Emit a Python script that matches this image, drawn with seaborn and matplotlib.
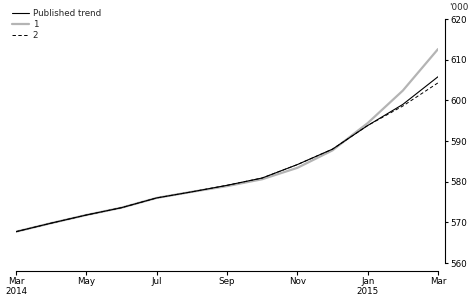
import matplotlib
matplotlib.use("Agg")
import matplotlib.pyplot as plt
import seaborn as sns
import pandas as pd
import numpy as np

months = ["Mar 2014", "Apr", "May", "Jun", "Jul", "Aug", "Sep", "Oct", "Nov", "Dec", "Jan 2015", "Feb", "Mar 2015"]
published = [567.7, 569.8, 571.8, 573.6, 576.0, 577.5, 579.1, 580.9, 584.2, 588.0, 593.8, 599.0, 605.8]
series1 = [567.7, 569.8, 571.8, 573.6, 576.0, 577.5, 578.9, 580.6, 583.4, 587.7, 594.4, 602.4, 612.6]
series2 = [567.7, 569.8, 571.8, 573.6, 576.0, 577.5, 579.1, 580.9, 584.2, 588.0, 593.8, 598.6, 604.3]
tick_labels = ["Mar\n2014", "May", "Jul", "Sep", "Nov", "Jan\n2015", "Mar"]
yticks = [560, 570, 580, 590, 600, 610, 620]

sns.set_theme(style="white")
plt.rcParams['font.family'] = ['DejaVu Sans']
fs = 6.3

idx = np.arange(len(months))
df = pd.DataFrame({"x": idx, "Published trend": published, "1": series1, "2": series2})

fig = plt.figure(figsize=(4.72, 3.02), dpi=100)
ax = fig.add_axes([16/472, 1 - 263/302, (438-16)/472, (263-19)/302])

sns.lineplot(data=df, x="x", y="1", ax=ax, color="#b4b4b4", linewidth=1.6, label="1", zorder=2)
sns.lineplot(data=df, x="x", y="Published trend", ax=ax, color="black", linewidth=0.8, label="Published trend", zorder=3)
sns.lineplot(data=df, x="x", y="2", ax=ax, color="black", linewidth=0.7, linestyle=(0, (3.5, 2.5)), label="2", zorder=4)

ax.set_xlim(0, 12)
ax.set_ylim(560, 620)
ax.set_xlabel("")
ax.set_ylabel("")

for s in ["top", "left"]:
    ax.spines[s].set_visible(False)
ax.spines["bottom"].set_position(("outward", 5.8))
ax.spines["right"].set_position(("outward", 5.0))
ax.spines["bottom"].set_bounds(0, 12)
ax.spines["right"].set_bounds(560, 620)
for s in ["bottom", "right"]:
    ax.spines[s].set_color("black")
    ax.spines[s].set_linewidth(0.8)

ax.yaxis.tick_right()
ax.set_yticks(yticks)
ax.set_yticklabels([str(v) for v in yticks], fontsize=fs)
ax.set_xticks(np.arange(0, 13, 2))
ax.set_xticklabels(tick_labels, fontsize=fs, linespacing=1.1)
ax.tick_params(axis="y", which="both", right=True, left=False, direction="out", length=2.5, width=0.8, pad=1.5, colors="black")
ax.tick_params(axis="x", which="both", bottom=True, direction="out", length=3.0, width=0.8, pad=1.5, colors="black")
ax.grid(False)

fig.text(449/472, 1 - 8/302, "'000", fontsize=fs, ha="left", va="center")

handles, labels = ax.get_legend_handles_labels()
order = [labels.index("Published trend"), labels.index("1"), labels.index("2")]
leg = ax.legend([handles[i] for i in order], [labels[i] for i in order],
                loc="upper left", bbox_to_anchor=(10/472, 1 - 7/302), bbox_transform=fig.transFigure,
                frameon=False, fontsize=fs, handlelength=2.0, handletextpad=0.4,
                labelspacing=0.25, borderpad=0.2, borderaxespad=0)

fig.savefig("out.png", dpi=100)
